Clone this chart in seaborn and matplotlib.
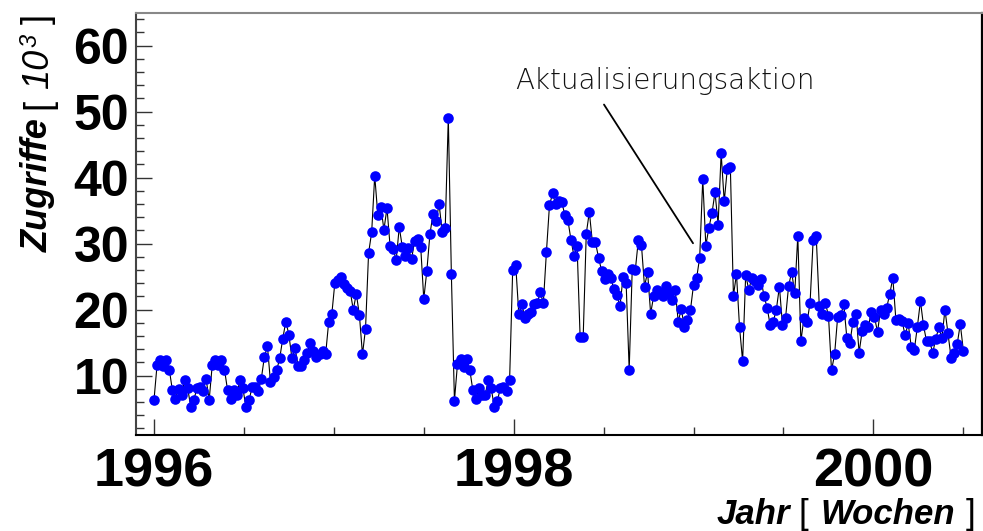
import numpy as np
import pandas as pd
import matplotlib
matplotlib.use("Agg")
import matplotlib.pyplot as plt
import seaborn as sns
from matplotlib.font_manager import FontProperties
from matplotlib.ticker import MultipleLocator
from matplotlib.transforms import IdentityTransform

# ---------------- data ----------------
zugriffe = [
    6.3, 11.6, 12.4, 11.4, 12.4, 10.9, 7.8, 6.5, 8.0, 7.0, 9.3, 8.1, 5.2, 6.3, 8.1, 8.3,
    7.7, 9.5, 6.3, 11.6, 12.4, 11.6, 12.4, 10.9, 7.8, 6.5, 7.8, 7.0, 9.3, 8.1, 5.2, 6.3,
    8.2, 8.3, 7.7, 9.5, 12.8, 14.5, 9.0, 9.8, 10.8, 12.6, 15.6, 18.2, 16.2, 12.6, 14.2,
    11.5, 11.4, 12.4, 13.5, 14.9, 13.7, 12.8, 13.2, 13.8, 13.3, 18.2, 19.3, 24.1, 24.5,
    24.9, 23.9, 23.3, 22.8, 20.0, 22.4, 19.2, 13.2, 17.1, 28.6, 31.7, 40.3, 34.4, 35.6,
    32.1, 35.4, 29.7, 29.2, 27.5, 32.5, 29.5, 28.2, 29.3, 27.6, 30.4, 30.7, 29.5, 21.6,
    25.9, 31.4, 34.5, 33.4, 36.0, 31.8, 32.4, 49.1, 25.4, 6.2, 11.8, 12.5, 11.3, 12.5,
    10.9, 7.8, 6.5, 8.1, 7.0, 7.0, 9.3, 8.1, 5.2, 6.2, 8.1, 8.3, 7.6, 9.4, 26.0, 26.7,
    19.3, 20.8, 18.7, 19.3, 19.6, 20.8, 21.0, 22.6, 21.0, 28.7, 35.8, 37.6, 36.0, 36.5,
    36.3, 34.4, 33.6, 30.6, 28.1, 29.7, 15.8, 15.9, 31.5, 34.8, 30.2, 30.2, 27.9, 25.9,
    24.6, 25.4, 24.8, 23.1, 22.2, 20.5, 25.0, 24.1, 10.9, 26.2, 26.0, 30.6, 29.8, 23.5,
    25.7, 19.4, 22.1, 23.0, 22.5, 22.1, 23.6, 22.5, 21.5, 23.0, 18.2, 20.1, 17.3, 18.4,
    20.0, 23.8, 24.8, 27.9, 39.8, 29.7, 32.4, 34.6, 37.8, 32.9, 43.7, 36.4, 41.3, 41.6,
    22.1, 25.4, 17.3, 12.2, 25.3, 23.0, 24.8, 24.3, 23.8, 24.6, 22.0, 20.3, 17.6, 18.2,
    20.0, 23.5, 17.7, 18.7, 23.6, 25.7, 22.5, 31.2, 15.2, 18.7, 18.1, 21.0, 30.5, 31.2,
    20.6, 19.4, 21.0, 19.1, 10.8, 13.2, 18.9, 19.2, 20.8, 15.7, 15.0, 18.2, 19.4, 13.5,
    16.8, 17.6, 17.4, 19.7, 18.9, 16.6, 20.0, 19.3, 20.3, 22.4, 24.8, 18.4, 18.6, 18.3,
    16.1, 17.9, 14.4, 13.9, 17.4, 21.3, 17.6, 15.2, 15.3, 13.4, 15.6, 17.3, 15.7, 20.0,
    16.4, 12.7, 13.5, 14.8, 17.8, 13.8,
]
first_year = 1996.0
last_year = 2000.5
x_ticks = [1996, 1998, 2000]
x_tick_labels = ["1996", "1998", "2000"]
y_ticks = [10, 20, 30, 40, 50, 60]
y_tick_labels = ["10", "20", "30", "40", "50", "60"]
annotation_text = "Aktualisierungsaktion"

jahre = np.linspace(first_year, last_year, len(zugriffe))
df = pd.DataFrame({"Jahr": jahre, "Zugriffe": zugriffe})

# ---------------- figure ----------------
sns.set_style("white")
plt.rcParams["text.color"] = "black"
plt.rcParams["xtick.color"] = "black"
plt.rcParams["ytick.color"] = "black"
plt.rcParams["axes.labelcolor"] = "black"

W, H = 983, 531
fig = plt.figure(figsize=(W / 100, H / 100), dpi=100)
fig.patch.set_facecolor("white")
ax = fig.add_axes([136 / W, 1 - 435 / H, (981.7 - 136) / W, (435 - 12.7) / H])
ax.set_facecolor("white")

sns.lineplot(data=df, x="Jahr", y="Zugriffe", ax=ax, color="black", lw=0.8,
             estimator=None, sort=False, zorder=2)
sns.scatterplot(data=df, x="Jahr", y="Zugriffe", ax=ax, color="#0000ff", s=58,
                linewidth=0, zorder=3)

ax.set_xlim(1995.9, 2000.602)
ax.set_ylim(1, 65)
ax.set_xlabel("")
ax.set_ylabel("")

narrow_bold = FontProperties(family=["Liberation Sans Narrow", "Liberation Sans"], weight="bold", size=39)
sans_bold = FontProperties(family=["Liberation Sans", "DejaVu Sans"], weight="bold", size=36)

ax.set_xticks(x_ticks, labels=x_tick_labels, fontproperties=narrow_bold, color="black")
ax.set_yticks(y_ticks, labels=y_tick_labels, fontproperties=sans_bold, color="black")
ax.xaxis.set_minor_locator(MultipleLocator(0.5))
ax.yaxis.set_minor_locator(MultipleLocator(2))

ax.tick_params(axis="both", which="major", direction="in", length=11.3, width=1.0,
               color="#333333", labelcolor="black")
ax.tick_params(axis="both", which="minor", direction="in", length=5.8, width=1.0, color="#333333")
ax.tick_params(axis="x", which="both", top=False, bottom=True, pad=9)
ax.tick_params(axis="y", which="both", right=False, left=True, pad=5)

for side, col, lw in [("top", "#888888", 1.5), ("left", "#444444", 1.5),
                      ("right", "black", 1.6), ("bottom", "black", 1.5)]:
    ax.spines[side].set_visible(True)
    ax.spines[side].set_color(col)
    ax.spines[side].set_linewidth(lw)

# annotation
ax.text(1998.007, 53.45, annotation_text, fontsize=20, fontweight="light",
        family=["DejaVu Sans"], ha="left", va="baseline", color="#111111")
ax.annotate("", xy=(1998.997, 30.06), xytext=(1998.502, 51.08),
            arrowprops=dict(arrowstyle="-", lw=1.3, color="black",
                            shrinkA=0, shrinkB=0))

# ---------------- mixed-style axis labels ----------------
renderer = fig.canvas.get_renderer()
fam = ["Liberation Sans Narrow", "Liberation Sans"]


def fp(style="normal", weight="normal", size=25):
    return FontProperties(family=fam, style=style, weight=weight, size=size)


def mixed_label(pieces, x0, y0, rotation, align_end=False):
    """pieces: list of (text, fontprops, gap_before_px, rise_px)"""
    texts, lengths = [], []
    for s, f, gap, rise in pieces:
        t = fig.text(0, 0, s, fontproperties=f, rotation=rotation, color="black",
                     rotation_mode="anchor", ha="left", va="baseline",
                     transform=IdentityTransform())
        bb = t.get_window_extent(renderer)
        texts.append(t)
        lengths.append(bb.width if rotation == 0 else bb.height)
    total = sum(lengths) + sum(p[2] for p in pieces)
    pos = -total if align_end else 0.0
    for (s, f, gap, rise), t, L in zip(pieces, texts, lengths):
        pos += gap
        if rotation == 0:
            t.set_position((x0 + pos, y0 + rise))
        else:
            t.set_position((x0 - rise, y0 + pos))
        pos += L


# x label: "Jahr [ Wochen ]", right aligned near the lower right corner
mixed_label([
    ("Jahr", fp("italic", "bold", 25), 0, 0),
    ("[", fp("normal", "normal", 25), 9, 0),
    ("Wochen", fp("italic", "bold", 25), 12, 0),
    ("]", fp("normal", "normal", 25), 10, 0),
], 975, H - 524, 0, align_end=True)

# y label: "Zugriffe [ 10^3 ]", reading bottom to top
mixed_label([
    ("Zugriffe", fp("italic", "bold", 26), 0, 0),
    ("[", fp("normal", "normal", 26), 9, 0),
    ("10", fp("italic", "normal", 26), 10, 0),
    ("3", fp("italic", "normal", 17), 2, 12),
    ("]", fp("normal", "normal", 26), 10, 0),
], 48, H - 252, 90)

fig.savefig("out.png", dpi=100, facecolor="white")
